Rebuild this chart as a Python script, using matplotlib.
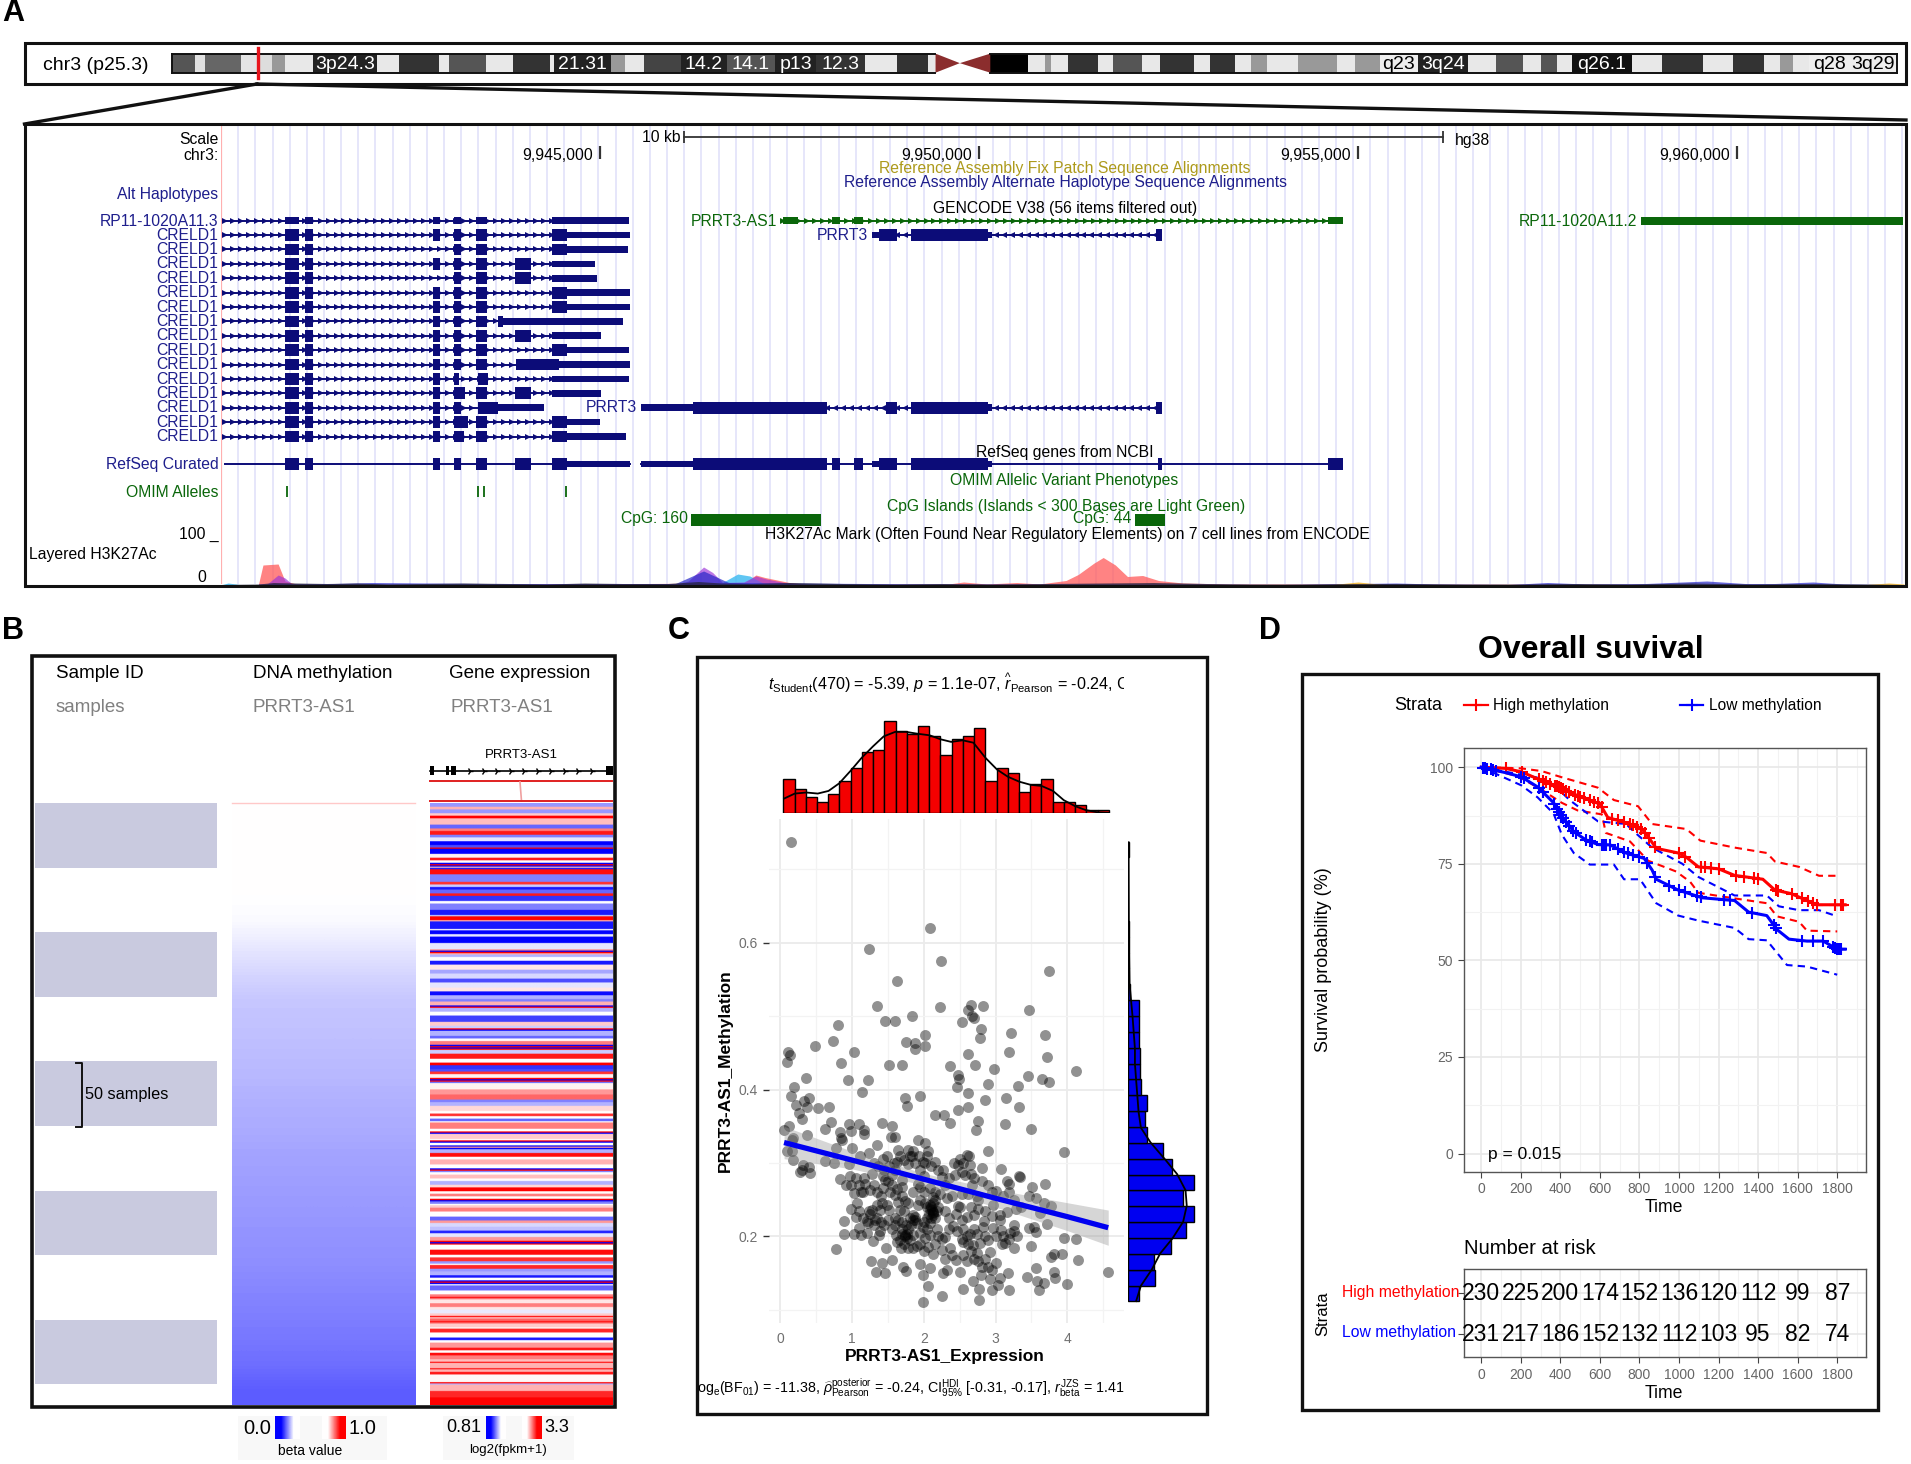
import matplotlib
matplotlib.use("Agg")
import matplotlib.pyplot as plt
import numpy as np
from matplotlib.colors import LinearSegmentedColormap
from matplotlib.patches import Rectangle
from matplotlib.transforms import Bbox, TransformedBbox

plt.rcParams['font.family'] = ['Liberation Sans', 'DejaVu Sans']
plt.rcParams['mathtext.fontset'] = 'custom'
plt.rcParams['mathtext.rm'] = 'Liberation Sans'
plt.rcParams['mathtext.it'] = 'Liberation Sans:italic'
plt.rcParams['mathtext.bf'] = 'Liberation Sans:bold'

W, H = 1911, 1464
NAVY = '#0c0c78'
GREEN = '#0a660a'

# ---- panel A data: ideogram (Mb along chr3)
band_edges = [0, 2.7, 3.9, 8, 9.9, 11.5, 13.1, 16.3, 23.6, 26.2, 30.7, 31.9, 36.2, 39.3, 43.5, 44, 50.5,
              52.1, 54.3, 58.5, 63.8, 69.4, 74.1, 79.7, 83.4, 86.9, 87.8]
band_grey = ['#555555', '#e0e0e0', '#666666', '#e4e4e4', '#dddddd', '#999999', '#e8e8e8', '#222222', '#e8e8e8',
             '#333333', '#e8e8e8', '#555555', '#e8e8e8', '#333333', '#e8e8e8', '#222222', '#999999', '#e8e8e8',
             '#444444', '#222222', '#555555', '#222222', '#333333', '#e8e8e8', '#333333', '#e8e8e8']
band_edges_q = [94.1, 98.4, 100.4, 101.1, 103, 106.5, 108.2, 111.5, 113.6, 117.5, 119.4, 122.2, 124.1, 125.9,
                129.5, 134, 136, 138.9, 143.2, 149, 152.2, 155.3, 157.4, 159.2, 160.9, 167.9, 171.3, 176,
                179.4, 183, 184.9, 186.3, 188.2, 192.7, 198.3]
band_grey_q = ['#000000', '#e8e8e8', '#999999', '#e8e8e8', '#333333', '#e8e8e8', '#555555', '#e8e8e8', '#333333',
               '#e8e8e8', '#333333', '#e8e8e8', '#999999', '#e8e8e8', '#999999', '#e8e8e8', '#999999', '#eeeeee',
               '#222222', '#e8e8e8', '#555555', '#e8e8e8', '#555555', '#e8e8e8', '#111111', '#e8e8e8', '#333333',
               '#e8e8e8', '#333333', '#e8e8e8', '#999999', '#e8e8e8', '#eeeeee', '#eeeeee']
band_names = ['3p24.3', '21.31', '14.2', '14.1', 'p13', '12.3', 'q23', '3q24', 'q26.1', 'q28', '3q29']
band_name_mb = [20, 47.2, 61.2, 66.6, 71.8, 76.9, 141, 146.1, 164.4, 190.5, 195.5]
band_name_col = ['white', 'white', 'white', 'white', 'white', 'white', 'black', 'white', 'white', 'black', 'black']
locus_mb = 9.9

# ---- panel A data: transcripts (kb on chr3)
A = (9940.85, 9941.03)
B = (9941.115, 9941.22)
C = (9942.80, 9942.90)
D = (9943.08, 9943.17)
E = (9943.37, 9943.51)
F = (9943.89, 9944.095)
G = (9944.37, 9944.57)
creld_tall = [
    [],
    [A, B, C, D, E, G],
    [A, B, D, E, G],
    [A, B, C, D, E, F],
    [A, B, D, E, F],
    [A, B, C, D, E, G],
    [A, B, C, D, E, G],
    [A, B, C, D, E, (9943.66, 9943.73)],
    [A, B, C, D, E, F],
    [A, B, C, D, E, G],
    [A, B, C, D, E, (9943.90, 9944.47)],
    [A, B, C, (9943.08, 9943.14), (9943.39, 9943.53)],
    [A, B, C, (9943.08, 9943.23), E, F],
    [A, B, C, D, (9943.39, 9943.66)],
    [A, B, C, (9943.08, 9943.27), E, G],
    [A, B, C, (9943.08, 9943.21), E, G],
]
creld_thin = [
    [(9940.85, 9941.03), (9941.115, 9941.22), C, D, E, (9944.37, 9945.39)],
    [(9944.57, 9945.40)],
    [(9944.57, 9945.37)],
    [(9944.37, 9944.94)],
    [(9944.37, 9944.97)],
    [(9944.57, 9945.40)],
    [(9944.57, 9945.40)],
    [(9943.73, 9945.31)],
    [(9944.37, 9945.02)],
    [(9944.57, 9945.39)],
    [(9944.47, 9945.40)],
    [(9944.37, 9945.39)],
    [(9944.37, 9945.02)],
    [(9943.66, 9944.26)],
    [(9944.57, 9945.01)],
    [(9944.57, 9945.35)],
]
intron_ends = [9944.37, 9944.37, 9944.37, 9944.37, 9944.37, 9944.37, 9944.37, 9943.66, 9944.37, 9944.37,
               9943.90, 9944.37, 9944.37, 9943.39, 9944.37, 9944.37]
intron_start = 9940.06
refseq_tall = [A, B, C, D, E, F, G, (9946.23, 9948.0), (9948.07, 9948.17), (9948.36, 9948.47), (9948.68, 9948.92),
               (9949.10, 9950.12), (9952.36, 9952.41), (9954.61, 9954.80)]
refseq_thin = [(9944.57, 9945.40), (9945.54, 9946.23), (9948.59, 9948.68), (9950.12, 9950.18)]
prrt3_row1_tall = [(9948.68, 9948.92), (9949.10, 9950.12)]
prrt3_row1_thin = [(9948.59, 9948.68), (9950.12, 9950.18)]
prrt3_row13_tall = [(9946.23, 9948.0), (9948.77, 9948.92), (9949.10, 9950.12)]
prrt3_row13_thin = [(9945.54, 9946.23), (9950.12, 9950.18)]
as1_exons = [(9947.42, 9947.61), (9948.07, 9948.17), (9948.36, 9948.47), (9954.61, 9954.80)]
rp11_2_exon = (9958.73, 9962.19)
omim_kb = [9940.88, 9943.40, 9943.47, 9944.56]
cpg_islands = [(9946.21, 9947.92), (9952.06, 9952.46)]
coord_kb = [9945, 9950, 9955, 9960]
coord_labels = ['9,945,000', '9,950,000', '9,955,000', '9,960,000']

# H3K27Ac layers
sig_red_kb = [9940.0, 9940.5, 9940.56, 9940.76, 9940.85, 9941.0, 9943.0, 9946.9, 9947.06, 9947.18, 9947.5, 9947.75,
              9949.6, 9949.8, 9950.1, 9950.5, 9950.8, 9951.15, 9951.31, 9951.52, 9951.64, 9951.8, 9951.96, 9952.16,
              9952.37, 9952.69, 9953.3, 9962.2]
sig_red = [0, 1, 40, 42, 8, 2, 1, 4, 20, 15, 5, 1, 2, 6, 2, 5, 2, 9, 21, 44, 55, 40, 17, 19, 9, 4, 2, 1]
sig_purple_kb = [9940.6, 9940.76, 9940.85, 9940.95, 9945.97, 9946.17, 9946.29, 9946.37, 9946.49, 9946.62, 9946.9, 9947.06, 9947.2, 9947.6]
sig_purple = [0, 20, 14, 1, 0, 8, 25, 36, 25, 5, 6, 18, 12, 0]
sig_cyan_kb = [9940.0, 9940.1, 9940.3, 9946.4, 9946.62, 9946.82, 9946.98, 9947.2]
sig_cyan = [0, 4, 0, 0, 5, 22, 18, 0]
sig_blue_kb = [9940.5, 9941.5, 9942.0, 9943.5, 9945.0, 9946.0, 9946.37, 9946.7, 9948.5, 9950.0, 9952.8, 9954.0, 9955.5,
               9956.0, 9957.0, 9957.5, 9958.0, 9958.8, 9959.6, 9960.1, 9960.5, 9961.0, 9961.4, 9962.0]
sig_blue = [2, 3, 5, 3, 3, 3, 28, 5, 3, 2, 2, 1, 4, 2, 1, 5, 2, 3, 8, 3, 3, 6, 2, 1]
sig_orange_kb = [9954.6, 9955.0, 9955.4, 9961.6, 9962.0, 9962.2]
sig_orange = [0, 6, 0, 0, 4, 2]
sig_dark_kb = [9940.0, 9940.5, 9940.7, 9941.0, 9941.4, 9941.8, 9942.2, 9942.7, 9943.2, 9943.8, 9944.3, 9944.8, 9945.3,
               9945.9, 9946.3, 9946.6, 9947.0, 9947.5, 9948.2, 9948.9, 9949.5, 9950.2, 9950.9, 9951.6, 9952.3, 9953.0,
               9953.6, 9954.3, 9955.0, 9955.6, 9956.4, 9957.2, 9957.9, 9958.6, 9959.4, 9960.2, 9961.0, 9961.7, 9962.2]
sig_dark = [1, 2, 5, 4, 3, 4, 2, 3, 4, 3, 2, 4, 3, 3, 7, 4, 3, 5, 3, 2, 3, 2, 3, 4, 5, 3, 2, 2, 3, 3, 2, 2, 3, 2, 4, 2, 3, 2, 1]

# ---- panel B data: rows are samples, sorted by methylation
n_sample_blocks = [0, 100, 200, 300, 400]
sample_block_size = 50
meth_beta = [0.74, 0.5, 0.5, 0.5, 0.5, 0.49, 0.455, 0.42, 0.39, 0.38, 0.37, 0.36, 0.345, 0.335, 0.32, 0.31,
             0.30, 0.29, 0.28, 0.265, 0.25, 0.235, 0.215, 0.18]
expr_runs = [3, 2, 3, 2, 2, 5, 3, 2, 3, 2, 3, 3, 2, 1, 1, 3, 3, 2, 2, 1, 1, 1, 1, 1, 4, 6, 2, 2, 2, 3, 2, 4, 2, 5, 4, 1,
             3, 1, 6, 1, 3, 2, 5, 5, 1, 1, 1, 1, 2, 3, 3, 4, 3, 4, 3, 4, 3, 3,
             3, 2, 3, 1, 1, 3, 3, 5, 3, 2, 1, 1, 4, 2, 2, 3, 1, 1, 1, 1, 3, 4, 3, 2, 3, 2, 2, 3, 1, 1, 1, 1, 5, 4, 4, 2,
             3, 4, 2, 2, 2, 2, 1, 5, 2, 1, 1, 4, 1, 1, 1, 2, 1, 1, 1, 3, 3, 2, 4, 3, 1, 1, 1, 2, 3, 2, 3, 2, 3, 2, 2, 2, 1, 1,
             2, 1, 2, 3, 4, 3, 2, 3, 3, 2, 3, 3, 1, 1, 1, 4, 4, 2, 3, 2, 1, 3, 2, 3, 2, 2, 1, 1, 1, 1, 4, 3,
             2, 1, 1, 3, 3, 2, 3, 2, 1, 1, 2, 1, 1, 3, 1, 3, 4, 2, 2, 4, 2, 2, 2, 3, 2, 1, 1, 3, 1, 2, 2, 6, 1, 1, 3, 2, 5, 6]
expr_scaled = [-.4, .3, -.4, .2, 1, .25, -.6, .5, .9, -.5, -.1, -1, -.7, 1, -1, -1, .05, .9, 0, -1, 1, -1, .3, -.9, .95, -.5, .8, -.2,
               -.9, -.6, .9, -.8, 0, -.5, -.9, -.2, 1, .3, -.9, 0, -1, -.1, -1, -.1, .5, -1, 1, .3, -.3, 0, -.9, .1, -.35, -.15,
               -.7, -.1, .1, -.95,
               -.3, -.5, .3, -1, 1, -.3, 0, -.75, .2, -.2, 1, -1, -.3, -.6, 0, .5, -1, 1, -1, 1, -.2, .9, 0, 1, -.8, -.7, .8,
               .05, 1, -1, 1, -.6, .05, .4, .6, -.5, -.3, .15, 0, .8, 0, -.6, 0, .5, 0, 1, -1, .2, 0, 1, -1, 0, -1, .4, -1, -.3,
               .95, 0, .3, 0, -1, 1, -.5, 0, .25, 0, -.3, .15, 1, 0, .5, 0, 1, -1,
               -.5, 0, .2, .5, 0, -.6, .4, -.15, -.25, -.85, -.1, .4, 1, -1, 1, 0, .95, 0, .8, -.4, 0, .85, -.4, -.3, -.9, 0, -1,
               1, -1, 0, -.6, 0,
               .5, .9, .5, .1, .5, .1, -.08, .2, .9, .2, .6, .9, .6, .2, 0, .85, 0, -.9, 0, .4, .9, 0, .95, .5, .25, .9, .25, .3, .9, .3, .9,
               .03, 1, -.3, .3, .3, .85, 1]

# ---- panel C data: expression vs methylation
dots = [
    (.149, .738), (2.09, .62), (1.24, .591), (2.24, .575), (3.74, .562), (1.62, .548), (1.345, .514), (2.23, .512),
    (2.66, .516), (2.82, .514), (2.61, .509), (3.46, .509), (1.83, .501), (1.455, .494), (1.6, .494), (2.53, .492),
    (2.70, .497), (2.67, .501), (.80, .488), (2.8, .482), (3.22, .477), (2.01, .475), (3.69, .474), (2.78, .471),
    (.735, .466), (.485, .459), (1.75, .465), (1.87, .463), (2.02, .46), (1.87, .455), (1.02, .451), (.11, .451),
    (.135, .447), (3.19, .452), (2.62, .448), (3.71, .445), (.086, .438), (.84, .437), (1.52, .434), (1.70, .434),
    (2.37, .432), (2.71, .433), (2.98, .428), (4.12, .425), (2.48, .42), (3.45, .418), (.35, .416), (.94, .413),
    (1.215, .413), (3.64, .414), (3.75, .411), (2.49, .414), (2.89, .408), (3.305, .405), (.19, .403), (2.46, .404),
    (1.14, .397), (2.62, .396), (.145, .392), (1.945, .392), (.40, .389), (2.85, .386), (1.73, .388), (3.15, .388),
    (.33, .384), (.21, .379), (1.76, .378), (.67, .377), (.52, .375), (.375, .377), (3.33, .377), (2.61, .377),
    (2.48, .372), (.255, .368), (2.15, .366), (2.28, .366), (.30, .36), (.71, .356), (2.36, .355), (2.75, .358),
    (.95, .353), (1.095, .353), (1.42, .355), (1.55, .351), (3.13, .353), (.12, .351), (3.50, .347), (.05, .345),
    (.62, .346), (.985, .344), (1.17, .345), (2.72, .345), (.83, .342), (.365, .338), (1.54, .336), (.18, .334),
    (.855, .332), (1.17, .34), (1.6, .335), (.16, .331), (.85, .334), (1.92, .331), (2.01, .327), (1.35, .325),
    (.78, .32), (.09, .316), (.16, .316), (.18, .304), (.32, .297), (.27, .288), (.41, .287), (.40, .295), (.30, .291),
    (.62, .303), (.95, .299), (1.11, .309), (1.24, .314), (1.43, .306), (1.48, .31), (1.64, .318), (1.62, .302),
    (1.78, .318), (1.85, .316), (1.83, .309), (2.06, .317), (1.99, .302), (2.02, .3), (1.78, .299), (2.15, .302),
    (2.27, .291), (2.25, .281), (2.6, .311), (2.63, .31), (2.48, .297), (2.64, .298), (2.53, .288), (2.57, .284),
    (2.43, .284), (2.89, .316), (2.81, .293), (3.08, .292), (3.34, .281), (3.32, .282), (3.16, .276), (3.18, .272),
    (2.81, .276), (2.67, .27), (3.01, .262), (3.19, .261), (3.69, .272), (3.51, .267), (3.46, .255), (3.56, .252),
    (3.67, .245), (3.77, .242), (3.62, .232), (3.96, .315), (.83, .278), (.97, .282), (.92, .27), (.99, .27),
    (1.16, .279), (1.18, .272), (1.25, .264), (1.12, .261), (1.02, .259), (1.46, .277), (1.5, .275), (1.43, .266),
    (1.53, .261), (1.6, .257), (1.69, .268), (1.69, .277), (1.55, .284), (1.43, .282), (1.95, .268), (1.92, .272),
    (2.09, .266), (2.15, .261), (2.22, .258), (2.13, .254), (2.32, .252), (2.39, .255), (2.53, .258), (2.62, .258),
    (2.74, .255), (2.76, .25), (2.47, .242), (2.97, .243), (3.16, .234), (3.06, .229), (3.06, .222), (3.29, .237),
    (.98, .237), (1.07, .245), (1.05, .227), (.89, .221), (.89, .204), (1.02, .203), (1.1, .211), (1.12, .202),
    (1.2, .205), (1.38, .202), (1.39, .207), (1.29, .194), (1.47, .185), (.78, .183), (1.23, .235), (1.27, .236),
    (1.34, .243), (1.41, .246), (1.48, .243), (1.39, .236), (1.52, .236), (1.32, .222), (1.34, .225), (1.5, .222),
    (1.64, .247), (1.74, .248), (1.67, .236), (1.78, .245), (1.64, .222), (1.69, .22), (1.85, .229), (1.88, .222),
    (1.9, .218), (1.99, .213), (1.92, .243), (2.09, .238), (2.12, .234), (2.15, .225), (2.13, .229), (2.04, .225),
    (2.09, .218), (1.61, .202), (1.69, .204), (1.74, .202), (1.76, .198), (1.67, .195), (1.62, .193), (1.78, .184),
    (1.9, .187), (1.85, .202), (2.02, .198), (2.09, .202), (2.06, .186), (2.25, .197), (2.29, .199), (2.12, .176),
    (2.25, .182), (2.36, .184), (2.41, .214), (2.46, .207), (2.53, .222), (2.6, .227), (2.7, .229), (2.76, .237),
    (2.84, .221), (2.83, .213), (2.96, .211), (3.08, .209), (3.25, .216), (3.25, .207), (2.64, .204), (2.74, .204),
    (2.53, .197), (2.55, .193), (2.78, .191), (2.69, .188), (2.92, .179), (3.01, .164), (3.18, .197), (3.13, .191),
    (3.09, .19), (3.26, .185), (3.49, .187), (3.46, .212), (3.53, .213), (3.56, .206), (3.72, .217), (3.95, .198),
    (4.12, .196), (4.15, .168), (3.92, .176), (3.81, .176), (3.77, .172), (3.56, .157), (3.44, .145), (3.81, .151),
    (3.83, .143), (3.57, .139), (3.67, .136), (3.6, .127), (4.0, .135), (4.56, .151), (3.17, .15), (3.06, .143),
    (3.04, .134), (2.92, .142), (2.95, .127), (3.18, .127), (2.77, .128), (2.54, .129), (2.69, .139), (2.79, .147),
    (2.9, .159), (2.81, .158), (2.76, .166), (2.74, .177), (2.6, .166), (2.5, .152), (2.32, .154), (2.26, .15),
    (2.39, .175), (2.45, .168), (2.09, .157), (1.95, .163), (1.99, .147), (2.06, .133), (2.25, .119), (1.99, .111),
    (2.77, .113), (1.26, .166), (1.42, .164), (1.55, .168), (1.33, .152), (1.46, .15), (1.71, .159), (1.75, .153),
    (1.74, .2), (1.76, .203), (2.1, .24), (2.11, .236), (2.13, .232), (2.08, .243), (1.2, .221), (1.22, .218),
    (1.85, .222), (1.87, .226), (1.28, .285), (1.6, .29), (1.95, .29), (2.3, .27), (.75, .3), (1.0, .32), (2.0, .283),
    (1.3, .3), (1.36, .296), (1.44, .29), (1.52, .296), (1.58, .3), (1.66, .31), (1.72, .304), (1.8, .31), (1.88, .3),
    (1.93, .31), (2.05, .31), (2.1, .296), (2.2, .29), (2.35, .28), (2.42, .3), (2.5, .305), (2.55, .3), (2.65, .285),
    (2.7, .28), (2.9, .27), (2.95, .26), (3.1, .255), (3.25, .25), (3.35, .24), (1.05, .28), (1.1, .27), (1.15, .26),
    (1.3, .27), (1.35, .26), (1.4, .255), (1.56, .27), (1.62, .265), (1.7, .255), (1.85, .26), (1.95, .25), (2.0, .26),
    (2.02, .245), (2.05, .24), (2.12, .245), (2.15, .25), (2.2, .24), (2.3, .235), (2.35, .225), (2.45, .23), (1.25, .23),
    (1.3, .215), (1.4, .22), (1.45, .215), (1.55, .21), (1.6, .215), (1.7, .21), (1.78, .21), (1.82, .215), (1.95, .205),
    (2.0, .22), (2.05, .21), (2.1, .225), (2.18, .21), (2.2, .2), (2.35, .21), (2.55, .21), (2.6, .2), (2.62, .19),
    (2.7, .21), (2.85, .2), (2.9, .195), (3.0, .2), (3.1, .2), (3.2, .205), (3.3, .2), (1.68, .185), (1.72, .19),
    (1.8, .195), (1.85, .185), (1.95, .19), (2.0, .18), (2.15, .19), (2.3, .17), (2.55, .175), (2.65, .18), (2.7, .17),
    (2.85, .17), (2.95, .155), (1.6, .225), (1.72, .235), (1.8, .225), (1.75, .215), (2.07, .23), (2.18, .235), (2.5, .24),
    (2.65, .24), (2.85, .235), (2.95, .228), (1.15, .225), (1.1, .235),
]
expr_x = [d[0] for d in dots]
meth_y = [d[1] for d in dots]
fit_x = [0.05, 1, 2, 3, 4, 4.57]
fit_y = [0.328, 0.304, 0.278, 0.252, 0.227, 0.212]
fit_lo = [0.306, 0.292, 0.27, 0.24, 0.208, 0.188]
fit_hi = [0.350, 0.316, 0.286, 0.264, 0.246, 0.236]
expr_hist = [13, 9, 6, 4, 7, 12, 17, 23, 24, 35, 31, 30, 33, 29, 22, 28, 29, 32, 12, 17, 15, 8, 11, 13, 4, 4, 3, 1, 1]
expr_hist_left = 0.04
expr_hist_bin = 0.1565
expr_dens_x = [.05, .2, .36, .52, .67, .82, .98, 1.13, 1.29, 1.44, 1.6, 1.75, 1.91, 2.08, 2.23, 2.38, 2.54, 2.69, 2.86,
               3.02, 3.17, 3.33, 3.49, 3.64, 3.8, 3.95, 4.11, 4.26, 4.42, 4.58]
expr_dens = [5.4, 7.3, 7.7, 7.3, 8.3, 11.2, 16, 20.8, 25.2, 29, 30.7, 30.7, 30, 29.4, 27.9, 26.9, 27.5, 26.6, 20.8, 16.4,
             13.7, 11.8, 10.6, 10.2, 8.3, 4.8, 2.5, 1, .2, 0]
meth_hist = [9, 23, 22, 36, 48, 55, 46, 55, 37, 29, 16, 14, 16, 11, 10, 10, 9, 9, 9, 2, 1, 1, 1, 1, 0, 0, 0, 0, 1]
meth_hist_bottom = 0.1116
meth_hist_bin = 0.0216
meth_dens_y = [.112, .133, .155, .177, .197, .22, .242, .263, .285, .305, .328, .348, .37, .392, .413, .435, .456, .5, .545, .6, .737]
meth_dens = [7, 11, 20, 27, 37, 46, 49, 48, 41, 31, 19, 11, 9, 8, 7, 6, 6, 4, 1.5, 1, .7]

# ---- panel D data
km_ticks = [0, 200, 400, 600, 800, 1000, 1200, 1400, 1600, 1800]
km_high_t = [0, 122, 203, 285, 386, 488, 600, 640, 752, 813, 844, 885, 996, 1037, 1098, 1200, 1281, 1424, 1485, 1566, 1647, 1698, 1840]
km_high_s = [100, 99.7, 98.8, 97, 95, 92.6, 90.5, 87, 85.3, 84, 82, 79, 77.8, 76.7, 74.2, 73.7, 72, 71, 68.2, 67.3, 65.5, 64.4, 64.4]
km_high_up_t = [0, 203, 305, 407, 590, 671, 793, 864, 1037, 1108, 1281, 1444, 1485, 1607, 1708, 1800]
km_high_up_s = [100, 99.7, 99, 97.4, 94.7, 91.5, 89.9, 85.3, 84, 81, 79.2, 77.8, 75.6, 74.2, 71.9, 71.9]
km_high_lo_t = [0, 183, 305, 407, 488, 610, 630, 752, 844, 986, 1057, 1098, 1261, 1444, 1495, 1607, 1647, 1800]
km_high_lo_s = [100, 97.7, 94.2, 90.8, 88.8, 87.8, 83, 80.8, 75.8, 73, 70.3, 67.5, 66.2, 64.8, 61.4, 60, 57.7, 57.5]
km_low_t = [0, 122, 203, 285, 366, 407, 468, 529, 590, 651, 732, 824, 864, 885, 996, 1118, 1281, 1352, 1444, 1495, 1556, 1647, 1729, 1800, 1840]
km_low_s = [100, 98.6, 97.5, 94.9, 90.8, 87.4, 83.3, 81.2, 80, 79.9, 77.8, 76.4, 73.4, 71, 68.2, 66.2, 65.5, 62.5, 61.6, 58, 55.5, 55, 55, 52.9, 52.9]
km_low_up_t = [0, 285, 386, 447, 590, 732, 773, 864, 1017, 1098, 1281, 1444, 1505, 1607, 1708, 1800]
km_low_up_s = [100, 97.3, 94.5, 91.5, 86, 85.3, 83.3, 79.2, 75, 71.6, 66.8, 66.8, 64, 63, 63, 61.4]
km_low_lo_t = [0, 203, 285, 366, 407, 468, 549, 671, 722, 803, 885, 996, 1098, 1281, 1352, 1444, 1546, 1647, 1800]
km_low_lo_s = [100, 95.3, 92.2, 88, 82.6, 77.8, 74.8, 74.8, 71, 71, 64.8, 61.6, 60.3, 58.4, 55.5, 55.2, 48.8, 48.4, 46.3]
censor_high = [125, 205, 290, 310, 330, 350, 375, 385, 395, 405, 415, 430, 445, 475, 490, 500, 520, 550, 570, 590, 610,
               660, 690, 720, 750, 770, 790, 810, 830, 850, 880, 1000, 1030, 1110, 1130, 1160, 1200, 1290, 1330, 1380,
               1400, 1490, 1500, 1570, 1620, 1650, 1680, 1700, 1790, 1820, 1830]
censor_low = [10, 20, 30, 50, 60, 75, 200, 215, 290, 310, 370, 385, 395, 405, 415, 430, 445, 465, 480, 530, 550, 560,
              610, 620, 630, 650, 690, 720, 740, 770, 800, 840, 880, 950, 1000, 1030, 1090, 1110, 1230, 1260, 1370,
              1480, 1490, 1620, 1680, 1730, 1780, 1790, 1800, 1810, 1820]
risk_high = [230, 225, 200, 174, 152, 136, 120, 112, 99, 87]
risk_low = [231, 217, 186, 152, 132, 112, 103, 95, 82, 74]

fig = plt.figure(figsize=(W / 100, H / 100), dpi=100, facecolor='white')


def px_axes(x0, y0, x1, y1, zorder=1):
    ax = fig.add_axes([x0 / W, 1 - y1 / H, (x1 - x0) / W, (y1 - y0) / H], zorder=zorder)
    ax.patch.set_alpha(0)
    return ax


over = px_axes(0, 0, W, H, zorder=20)
over.set_xlim(0, W)
over.set_ylim(H, 0)
over.axis('off')


def lab(x, y, s, size=11.3, color='black', ha='left', va='center', **kw):
    return over.text(x, y, s, fontsize=size, color=color, ha=ha, va=va, **kw)


def frame(x0, y0, x1, y1, lw=2.2, color='#111111'):
    over.add_patch(Rectangle((x0, y0), x1 - x0, y1 - y0, fill=False, ec=color, lw=lw))


# panel letters
for letter, lx, ly in [('A', 2, 13), ('B', 2, 631), ('C', 668, 631), ('D', 1259, 631)]:
    lab(lx, ly, letter, size=22, weight='bold')

# ------------------------------ A: ideogram
frame(24.5, 43, 1906, 84)
lab(43, 65, 'chr3 (p25.3)', size=14)
ideo = px_axes(171.5, 53.6, 1897, 72.7, zorder=2)
ideo.set_xlim(0, 198.3)
ideo.set_ylim(0, 1)
ideo.axis('off')
for edges, greys in [(band_edges, band_grey), (band_edges_q, band_grey_q)]:
    ideo.bar(edges[:-1], 1, width=np.diff(edges), align='edge', color=greys, linewidth=0)
ideo.fill([87.8, 90.6, 87.8], [0, .5, 1], color='#8b2d2d', lw=0)
ideo.fill([94.1, 90.6, 94.1], [0, .5, 1], color='#8b2d2d', lw=0)
ideo.plot([0, 87.8], [1, 1], color='#111111', lw=1.4, clip_on=False)
ideo.plot([0, 87.8], [0, 0], color='#111111', lw=1.4, clip_on=False)
ideo.plot([94.1, 198.3], [1, 1], color='#111111', lw=1.4, clip_on=False)
ideo.plot([94.1, 198.3], [0, 0], color='#111111', lw=1.4, clip_on=False)
ideo.plot([0, 0], [0, 1], color='#111111', lw=1.4, clip_on=False)
ideo.plot([198.3, 198.3], [0, 1], color='#111111', lw=1.4, clip_on=False)
for name, mb, col in zip(band_names, band_name_mb, band_name_col):
    ideo.text(mb, 0.45, name, color=col, fontsize=14, ha='center', va='center')
ideo.plot([locus_mb, locus_mb], [-0.3, 1.3], color='#e8141c', lw=2.4, clip_on=False, zorder=5)
over.plot([257, 24.5], [84, 124], color='#111111', lw=2.4)
over.plot([257, 1906], [84, 120], color='#111111', lw=2.4)

# ------------------------------ A: browser tracks, x in kb, y in track rows
frame(24.5, 124, 1906, 585.5)
trk = px_axes(220.5, 126, 1904, 584, zorder=2)
trk.set_xlim(9940.0, 9962.2)
trk.set_ylim(25.25, -6.58)
trk.axis('off')
for gx in np.arange(9940.234, 9962.2, 0.2262):
    trk.axvline(gx, color='#e2e2f9', lw=1.2, zorder=0)
trk.axvline(9940.0, color='#ffb0b0', lw=1.6, zorder=0)


def exons(row, spans, height, color=NAVY):
    for s0, s1 in spans:
        trk.barh(row, s1 - s0, left=s0, height=height, color=color, linewidth=0, zorder=3)


def intron(row, k0, k1, color=NAVY, marker='>', arrows=True):
    trk.plot([k0, k1], [row, row], color=color, lw=1.4, zorder=2)
    if arrows:
        xs = np.arange(k0, k1, 0.105)
        trk.plot(xs, [row] * len(xs), ls='none', marker=marker, ms=5, mew=0, color=color, zorder=2)


TALL, THIN = 0.82, 0.46
for r in range(16):
    intron(r, intron_start, intron_ends[r])
    exons(r, creld_tall[r], TALL)
    exons(r, creld_thin[r], THIN if r else 0.52)

intron(1, 9950.12, 9952.33, marker='<')
intron(1, 9948.92, 9949.10, marker='<')
exons(1, prrt3_row1_tall, TALL)
exons(1, prrt3_row1_thin, THIN)
trk.barh(1, 0.08, left=9952.33, height=TALL, color=NAVY, linewidth=0, zorder=3)
intron(13, 9948.0, 9948.77, marker='<')
intron(13, 9948.92, 9949.10, marker='<')
intron(13, 9950.12, 9952.33, marker='<')
exons(13, prrt3_row13_tall, TALL)
exons(13, prrt3_row13_thin, THIN)
trk.barh(13, 0.08, left=9952.33, height=TALL, color=NAVY, linewidth=0, zorder=3)

intron(0, 9947.42, 9954.61, color=GREEN)
exons(0, as1_exons, 0.52, GREEN)
exons(0, [rp11_2_exon], 0.55, GREEN)

REF_ROW, OMIM_ROW, CPG_ROW = 16.9, 18.8, 20.8
intron(REF_ROW, intron_start, 9945.40, arrows=False)
intron(REF_ROW, 9945.54, 9954.61, arrows=False)
exons(REF_ROW, refseq_tall, TALL)
exons(REF_ROW, refseq_thin, THIN)
trk.vlines(omim_kb, OMIM_ROW - 0.38, OMIM_ROW + 0.38, color=GREEN, lw=1.3, zorder=3)
exons(CPG_ROW, cpg_islands, 0.8, GREEN)
# scale bar and base coordinates
trk.plot([9946.115, 9956.115], [-5.8, -5.8], color='#333333', lw=1.3)
trk.vlines([9946.115, 9956.115], -6.2, -5.4, color='#333333', lw=1.3)
trk.vlines(coord_kb, -5.2, -4.3, color='#333333', lw=1.6)

sig = px_axes(220.5, 535, 1904, 585, zorder=3)
sig.set_xlim(9940.0, 9962.2)
sig.set_ylim(0, 100)
sig.axis('off')
sig.fill_between(sig_red_kb, sig_red, color='#ff5a5a', alpha=.75, lw=0)
sig.fill_between(sig_cyan_kb, sig_cyan, color='#38b8f0', alpha=.8, lw=0)
sig.fill_between(sig_purple_kb, sig_purple, color='#9a30d8', alpha=.65, lw=0)
sig.fill_between(sig_blue_kb, sig_blue, color='#2828c8', alpha=.7, lw=0)
sig.fill_between(sig_orange_kb, sig_orange, color='#f0b020', alpha=.8, lw=0)
sig.fill_between(sig_dark_kb, sig_dark, color='#22223c', alpha=.75, lw=0)

lab(218.6, 139, 'Scale', ha='right')
lab(218.6, 155, 'chr3:', ha='right')
lab(218.6, 195, 'Alt Haplotypes', color='#1e1e8c', ha='right')
lab(218.6, 221, 'RP11-1020A11.3', color='#1e1e8c', ha='right')
for r in range(1, 16):
    lab(218.6, 220.8 + 14.4 * r, 'CRELD1', color='#1e1e8c', ha='right')
lab(218.6, 465, 'RefSeq Curated', color='#1e1e8c', ha='right')
lab(218.6, 492.5, 'OMIM Alleles', color=GREEN, ha='right')
lab(218.6, 534.6, '100 _', ha='right')
lab(206, 578, '0', ha='right')
lab(29, 554, 'Layered H3K27Ac')
lab(681, 138, '10 kb', ha='right')
lab(1455, 140, 'hg38')
for kb, txt in zip(coord_kb, coord_labels):
    lab(600 + (kb - 9945) * 75.8 - 7, 155, txt, ha='right')
lab(879, 169, 'Reference Assembly Fix Patch Sequence Alignments', color='#ad9a1c')
lab(844, 182, 'Reference Assembly Alternate Haplotype Sequence Alignments', color='#1e1e8c')
lab(933, 209, 'GENCODE V38 (56 items filtered out)')
lab(777, 221, 'PRRT3-AS1', color=GREEN, ha='right')
lab(1637, 221, 'RP11-1020A11.2', color=GREEN, ha='right')
lab(868, 235.5, 'PRRT3', color='#1e1e8c', ha='right')
lab(637, 408, 'PRRT3', color='#1e1e8c', ha='right')
lab(976, 453, 'RefSeq genes from NCBI')
lab(950, 480, 'OMIM Allelic Variant Phenotypes', color=GREEN)
lab(887, 507, 'CpG Islands (Islands < 300 Bases are Light Green)', color=GREEN)
lab(688, 519, 'CpG: 160', color=GREEN, ha='right')
lab(1131, 519, 'CpG: 44', color=GREEN, ha='right')
lab(765, 534.6, 'H3K27Ac Mark (Often Found Near Regulatory Elements) on 7 cell lines from ENCODE')

# ------------------------------ B: heat columns
frame(31.6, 656, 614.5, 1407, lw=2.6)
bwr = LinearSegmentedColormap.from_list('bwr2', ['#0000ff', '#ffffff', '#ff0000'])

ids = px_axes(35.4, 803, 216.8, 1405, zorder=2)
ids.set_xlim(0, 1)
ids.set_ylim(466, 0)
ids.axis('off')
ids.barh(n_sample_blocks, 1, height=sample_block_size, align='edge', color='#c9cadf', linewidth=0)

mc = px_axes(231.5, 803, 414.6, 1405, zorder=2)
mc.imshow(np.array(meth_beta[1:]).reshape(-1, 1), cmap=bwr, vmin=0, vmax=1, aspect='auto', interpolation='bilinear')
mc.axis('off')
over.plot([231.5, 414.6], [803, 803], color='#ffc8c8', lw=1)

ec = px_axes(429.7, 803, 612.4, 1405, zorder=2)
expr_rows = np.repeat(expr_scaled, expr_runs).reshape(-1, 1)
ec.imshow(expr_rows, cmap=bwr, vmin=-1, vmax=1, aspect='auto', interpolation='bilinear')
ec.axis('off')

lab(55.5, 674, 'Sample ID', size=13.5)
lab(55.5, 707, 'samples', size=13.5, color='#808080')
lab(253, 674, 'DNA methylation', size=13.5)
lab(253, 707, 'PRRT3-AS1', size=13.5, color='#808080')
lab(448.6, 674, 'Gene expression', size=13.5)
lab(451, 707, 'PRRT3-AS1', size=13.5, color='#808080')
lab(521, 755, 'PRRT3-AS1', size=9.5, ha='center')

# small gene model above the expression column
over.plot([430, 612], [770.8, 770.8], color='black', lw=1.2)
over.plot(np.arange(470, 600, 13.5), [770.8] * 10, ls='none', marker='4', ms=5, color='black')
for x0, x1 in [(430, 434), (446, 449), (451, 456), (606, 613)]:
    over.add_patch(Rectangle((x0, 766), x1 - x0, 9, color='black', lw=0))
over.plot([430, 612], [780.7, 780.7], color='#e02020', lw=1.4)
over.plot([520, 521.5], [782, 801], color='#f0a0a0', lw=1.2)
over.plot([430, 612], [801, 801], color='#e02020', lw=1.4)

# 50 samples bracket
over.plot([76, 82, 82, 76], [1063, 1063, 1127, 1127], color='#111111', lw=1.4)
lab(85, 1094, '50 samples', size=11.7)

# colour keys
over.add_patch(Rectangle((238, 1416), 149, 44, color='#f8f8f8', lw=0))
over.add_patch(Rectangle((443, 1416), 131, 44, color='#f8f8f8', lw=0))
for x0, x1, lo, hi in [(275, 300, 0.0, 0.5), (322, 346, 0.5, 1.0), (486, 505, 0.0, 0.5), (522, 541, 0.5, 1.0)]:
    key = px_axes(x0, 1416, x1, 1439, zorder=21)
    key.imshow(np.array([[lo, hi]]), cmap=bwr, vmin=0, vmax=1, aspect='auto', interpolation='bilinear')
    key.axis('off')
lab(257, 1428, '0.0', size=14.5, ha='center')
lab(362, 1428, '1.0', size=14.5, ha='center')
lab(310, 1451, 'beta value', size=10, ha='center')
lab(464, 1428, '0.81', size=13, ha='center')
lab(557, 1428, '3.3', size=13, ha='center')
lab(508, 1450, 'log2(fpkm+1)', size=9.5, ha='center')

# ------------------------------ C
frame(696.5, 656.6, 1207, 1414, lw=2.4)
XL = (-0.167, 4.79)
sc = px_axes(768.5, 818.8, 1124, 1322.6, zorder=2)
sc.set_xlim(*XL)
sc.set_ylim(0.0827, 0.769)
for s in sc.spines.values():
    s.set_visible(False)
sc.set_xticks([0, 1, 2, 3, 4])
sc.set_xticks([.5, 1.5, 2.5, 3.5, 4.5], minor=True)
sc.set_yticks([.2, .4, .6])
sc.set_yticks([.1, .3, .5, .7], minor=True)
sc.grid(True, which='major', color='#ebebeb', lw=1.3)
sc.grid(True, which='minor', color='#f3f3f3', lw=0.9)
sc.set_axisbelow(True)
sc.tick_params(axis='x', which='both', length=0, labelsize=10, labelcolor='#707070', pad=7)
sc.tick_params(axis='y', which='major', length=4, width=1, color='#333333', labelsize=10, labelcolor='#707070')
sc.tick_params(axis='y', which='minor', length=0)
sc.scatter(expr_x, meth_y, s=62, color='black', alpha=.43, linewidths=0, zorder=3)
sc.fill_between(fit_x, fit_lo, fit_hi, color='#999999', alpha=.4, lw=0, zorder=4)
sc.plot(fit_x, fit_y, color='#0000f0', lw=3.8, solid_capstyle='butt', zorder=5)

top = px_axes(768.5, 715, 1124, 812.8, zorder=2)
top.set_xlim(*XL)
top.set_ylim(0, 37.1)
top.axis('off')
top.bar(expr_hist_left + expr_hist_bin * np.arange(len(expr_hist)), expr_hist, width=expr_hist_bin, align='edge',
        color='#f40000', edgecolor='black', linewidth=1)
top.plot(expr_dens_x, expr_dens, color='black', lw=1.3)

rgt = px_axes(1127.7, 818.8, 1200, 1322.6, zorder=2)
rgt.set_xlim(0, 60)
rgt.set_ylim(0.0827, 0.769)
rgt.axis('off')
rgt.barh(meth_hist_bottom + meth_hist_bin * np.arange(len(meth_hist)), meth_hist, height=meth_hist_bin, align='edge',
         color='#0000f0', edgecolor='black', linewidth=1)
rgt.plot(meth_dens, meth_dens_y, color='black', lw=1.3)

t1 = lab(768, 683, r'$\mathit{t}_{\mathrm{Student}}$(470) = -5.39, $\mathit{p}$ = 1.1e-07, '
         r'$\widehat{\mathit{r}}_{\mathrm{Pearson}}$ = -0.24, C', size=11.6)
t1.set_clip_box(TransformedBbox(Bbox([[760, 660], [1124, 700]]), over.transData))
t1.set_clip_on(True)
t2 = lab(694, 1388, r'log$_{\mathrm{e}}$(BF$_{01}$) = -11.38, $\widehat{\rho}_{\mathrm{Pearson}}^{\mathrm{posterior}}$ = -0.24, '
         r'CI$_{95\%}^{\mathrm{HDI}}$ [-0.31, -0.17], $\mathit{r}_{\mathrm{beta}}^{\mathrm{JZS}}$ = 1.41', size=10.3)
t2.set_clip_box(TransformedBbox(Bbox([[698, 1370], [1130, 1405]]), over.transData))
t2.set_clip_on(True)
lab(945, 1357, 'PRRT3-AS1_Expression', size=12.5, weight='bold', ha='center')
lab(725, 1071, 'PRRT3-AS1_Methylation', size=12.5, weight='bold', ha='center', rotation=90)

# ------------------------------ D
frame(1302, 674, 1877.6, 1410, lw=2.4)
lab(1591, 650, 'Overall suvival', size=23, weight='bold', ha='center')
lab(1394.7, 705, 'Strata', size=13)
over.plot([1464, 1488], [705, 705], color='#ff0000', lw=1.6)
over.plot([1476], [705], marker='+', ms=9, mew=1.5, color='#ff0000')
lab(1493, 705.5, 'High methylation', size=11.2)
over.plot([1680, 1703], [705, 705], color='#0000ff', lw=1.6)
over.plot([1691.5], [705], marker='+', ms=9, mew=1.5, color='#0000ff')
lab(1708.6, 705.5, 'Low methylation', size=11.2)

KX = (-89.5, 1943)
km = px_axes(1463.5, 748, 1865.5, 1171.6, zorder=2)
km.set_xlim(*KX)
km.set_ylim(-4.66, 104.97)
km.set_xticks(km_ticks)
km.set_xticks(np.array(km_ticks) + 100, minor=True)
km.set_yticks([0, 25, 50, 75, 100])
km.set_yticks([12.5, 37.5, 62.5, 87.5], minor=True)
km.grid(True, which='major', color='#e8e8e8', lw=1.2)
km.grid(True, which='minor', color='#f2f2f2', lw=0.8)
km.set_axisbelow(True)
km.tick_params(which='minor', length=0)
km.tick_params(which='major', length=4, color='#444444', labelsize=10, labelcolor='#666666')
for s in km.spines.values():
    s.set_color('#555555')
    s.set_linewidth(1)

for t_up, s_up, t_lo, s_lo, t_m, s_m, cens, col in [
    (km_high_up_t, km_high_up_s, km_high_lo_t, km_high_lo_s, km_high_t, km_high_s, censor_high, '#ff0000'),
    (km_low_up_t, km_low_up_s, km_low_lo_t, km_low_lo_s, km_low_t, km_low_s, censor_low, '#0000ff'),
]:
    km.plot(t_up, s_up, color=col, lw=1.5, ls=(0, (3.5, 2.5)), zorder=3)
    km.plot(t_lo, s_lo, color=col, lw=1.5, ls=(0, (3.5, 2.5)), zorder=3)
    km.plot(t_m, s_m, color=col, lw=2.2, zorder=4)
    km.plot(cens, np.interp(cens, t_m, s_m), ls='none', marker='+', ms=9, mew=1.5, color=col, zorder=4)

lab(1323, 960, 'Survival probability (%)', size=13, ha='center', rotation=90)
lab(1663.5, 1208, 'Time', size=12.7, ha='center')
lab(1488.5, 1155, 'p = 0.015', size=12.5)

lab(1463.5, 1248, 'Number at risk', size=14.6)
rk = px_axes(1463.5, 1269, 1865.5, 1357.4, zorder=2)
rk.set_xlim(*KX)
rk.set_ylim(-0.57, 1.6)
rk.set_xticks(km_ticks)
rk.set_xticks(np.array(km_ticks) + 100, minor=True)
rk.set_yticks([0, 1])
rk.set_yticklabels([])
rk.grid(True, which='major', color='#e8e8e8', lw=1.2)
rk.grid(True, which='minor', axis='x', color='#f2f2f2', lw=0.8)
rk.set_axisbelow(True)
rk.tick_params(which='minor', length=0)
rk.tick_params(which='major', length=4, color='#444444', labelsize=10, labelcolor='#666666')
for s in rk.spines.values():
    s.set_color('#555555')
    s.set_linewidth(1)
for t, hi, lo in zip(km_ticks, risk_high, risk_low):
    rk.text(t, 1, str(hi), fontsize=16.5, ha='center', va='center')
    rk.text(t, 0, str(lo), fontsize=16.5, ha='center', va='center')
lab(1342, 1292, 'High methylation', size=11.3, color='#ff0000')
lab(1342, 1333, 'Low methylation', size=11.3, color='#0000ff')
lab(1323, 1314, 'Strata', size=12, ha='center', rotation=90)
lab(1663.5, 1394, 'Time', size=12.7, ha='center')

fig.savefig('out.png', dpi=100)
